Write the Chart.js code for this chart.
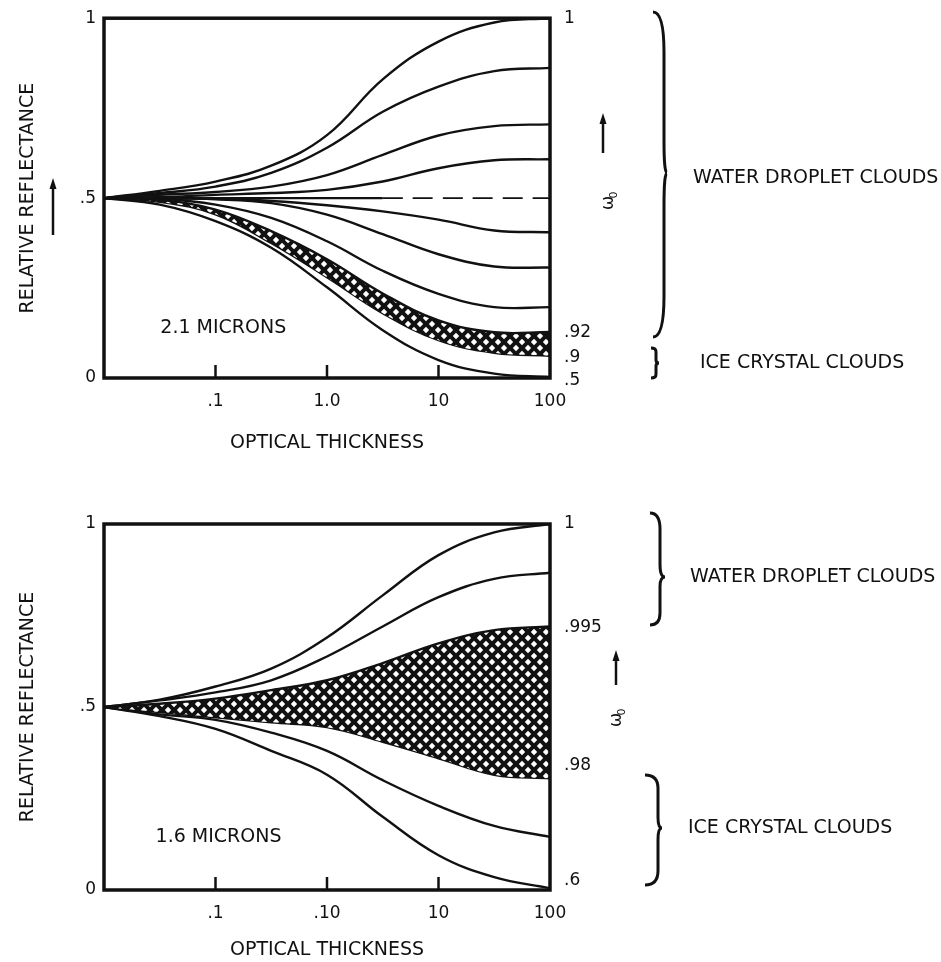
<!DOCTYPE html>
<html>
<head>
<meta charset="utf-8">
<script src="https://cdn.jsdelivr.net/npm/chart.js@4.4.0/dist/chart.umd.min.js"></script>
<style>
  body { margin: 0; background: #fff; }
  #wrap { position: relative; width: 941px; height: 962px; }
  canvas { position: absolute; left: 0; }
</style>
</head>
<body>
<div id="wrap">
  <canvas id="top" width="941" height="470" style="top:0"></canvas>
  <canvas id="bottom" width="941" height="492" style="top:470px"></canvas>
</div>
<script>
var INK = '#111';
var FONT = '"DejaVu Sans"';

var tau = [0.01, 0.0316, 0.1, 0.316, 1, 3.16, 10, 31.6, 100];

var yTickValues = [0, 0.5, 1];
var yTickLabels = ['0', '.5', '1'];
var xTickValues = [0.1, 1, 10, 100];
var xLabels21 = ['.1', '1.0', '10', '100'];
var xLabels16 = ['.1', '.10', '10', '100'];

// 2.1 microns, top curve to bottom curve
var r21_w100 = [0.50, 0.520, 0.546, 0.590, 0.675, 0.830, 0.935, 0.988, 1.000];
var r21_b    = [0.50, 0.514, 0.532, 0.570, 0.640, 0.740, 0.810, 0.853, 0.862];
var r21_c    = [0.50, 0.509, 0.517, 0.532, 0.564, 0.620, 0.674, 0.700, 0.705];
var r21_d    = [0.50, 0.503, 0.509, 0.514, 0.523, 0.546, 0.583, 0.605, 0.608];
var r21_e    = [0.50, 0.500, 0.500, 0.500, 0.500, 0.500, 0.500, 0.500, 0.500];
var r21_f    = [0.50, 0.500, 0.498, 0.492, 0.480, 0.463, 0.440, 0.410, 0.405];
var r21_g    = [0.50, 0.500, 0.497, 0.486, 0.454, 0.400, 0.344, 0.310, 0.307];
var r21_h    = [0.50, 0.498, 0.482, 0.445, 0.380, 0.298, 0.234, 0.197, 0.197];
var r21_w092 = [0.50, 0.495, 0.468, 0.408, 0.330, 0.235, 0.160, 0.127, 0.128];
var r21_w090 = [0.50, 0.490, 0.455, 0.375, 0.280, 0.180, 0.105, 0.070, 0.062];
var r21_w050 = [0.50, 0.482, 0.436, 0.362, 0.252, 0.133, 0.050, 0.012, 0.003];
var right21 = ['1', '.92', '.9', '.5'];
var right21At = [1.0, 0.127, 0.058, -0.006];

// 1.6 microns
var r16_w100  = [0.50, 0.520, 0.556, 0.605, 0.690, 0.805, 0.915, 0.977, 1.000];
var r16_b     = [0.50, 0.518, 0.540, 0.573, 0.638, 0.720, 0.800, 0.850, 0.867];
var r16_w0995 = [0.50, 0.509, 0.523, 0.546, 0.573, 0.620, 0.674, 0.710, 0.720];
var r16_w098  = [0.50, 0.486, 0.472, 0.458, 0.445, 0.405, 0.360, 0.315, 0.305];
var r16_e     = [0.50, 0.480, 0.465, 0.430, 0.380, 0.300, 0.230, 0.175, 0.145];
var r16_w060  = [0.50, 0.475, 0.440, 0.380, 0.315, 0.200, 0.095, 0.035, 0.005];
var right16 = ['1', '.995', '.98', '.6'];
var right16At = [1.0, 0.718, 0.34, 0.027];

function hatch() {
  var c = document.createElement('canvas');
  c.width = 12; c.height = 12;
  var g = c.getContext('2d');
  g.fillStyle = INK;
  g.fillRect(0, 0, 12, 12);
  g.fillStyle = '#fff';
  [[6, 6], [0, 0], [12, 0], [0, 12], [12, 12]].forEach(function (p) {
    g.beginPath();
    g.moveTo(p[0], p[1] - 3.2);
    g.lineTo(p[0] + 3.2, p[1]);
    g.lineTo(p[0], p[1] + 3.2);
    g.lineTo(p[0] - 3.2, p[1]);
    g.closePath();
    g.fill();
  });
  return g.createPattern(c, 'repeat');
}
var pattern = hatch();

function pts(arr) {
  return arr.map(function (y, i) { return { x: tau[i], y: y }; });
}

function line(arr, extra) {
  return Object.assign({
    data: pts(arr),
    borderColor: INK,
    borderWidth: 2.4,
    pointRadius: 0,
    fill: false,
    tension: 0.4
  }, extra || {});
}

function brace(ctx, b) {
  var h1 = b.ym - b.y1, h2 = b.y2 - b.ym, x = b.x, w = b.w;
  ctx.beginPath();
  ctx.moveTo(x, b.y1);
  ctx.quadraticCurveTo(x + w, b.y1, x + w, b.y1 + h1 * 0.25);
  ctx.lineTo(x + w, b.ym - h1 * 0.2);
  ctx.quadraticCurveTo(x + w, b.ym, x + w + b.t, b.ym);
  ctx.quadraticCurveTo(x + w, b.ym, x + w, b.ym + h2 * 0.2);
  ctx.lineTo(x + w, b.y2 - h2 * 0.25);
  ctx.quadraticCurveTo(x + w, b.y2, x, b.y2);
  ctx.stroke();
}

function arrow(ctx, x, y1, y2) {
  ctx.beginPath();
  ctx.moveTo(x, y2);
  ctx.lineTo(x, y1 + 8);
  ctx.stroke();
  ctx.beginPath();
  ctx.moveTo(x, y1);
  ctx.lineTo(x - 3.5, y1 + 11);
  ctx.lineTo(x + 3.5, y1 + 11);
  ctx.closePath();
  ctx.fill();
}

var decor = {
  id: 'decor',
  afterDraw: function (chart, args, o) {
    var ctx = chart.ctx, a = chart.chartArea;
    var xs = chart.scales.x, ys = chart.scales.y;
    ctx.save();
    ctx.strokeStyle = INK;
    ctx.fillStyle = INK;
    ctx.lineWidth = 3.5;
    ctx.strokeRect(a.left, a.top, a.right - a.left, a.bottom - a.top);

    // tick marks point inward from the bottom frame
    ctx.lineWidth = 2.5;
    xTickValues.slice(0, 3).forEach(function (v) {
      var px = xs.getPixelForValue(v);
      ctx.beginPath();
      ctx.moveTo(px, a.bottom);
      ctx.lineTo(px, a.bottom - 13);
      ctx.stroke();
    });

    ctx.textAlign = 'left';
    ctx.textBaseline = 'middle';
    ctx.font = '17px ' + FONT;
    o.right.forEach(function (t, i) {
      ctx.fillText(t, a.right + 14, ys.getPixelForValue(o.rightAt[i]));
    });

    ctx.font = '19px ' + FONT;
    ctx.fillText(o.micron, xs.getPixelForValue(o.micronAt[0]), ys.getPixelForValue(o.micronAt[1]));

    o.arrows.forEach(function (r) { arrow(ctx, r[0], r[1], r[2]); });

    // omega-naught, rotated like the axis title
    ctx.save();
    ctx.translate(o.omega[0], o.omega[1]);
    ctx.rotate(-Math.PI / 2);
    ctx.textAlign = 'center';
    ctx.font = '17px ' + FONT;
    ctx.fillText('\u03c9', 0, 0);
    ctx.font = '11px ' + FONT;
    ctx.fillText('0', 8, 5);
    ctx.restore();

    ctx.lineWidth = 3;
    o.braces.forEach(function (b) { brace(ctx, b); });

    ctx.font = '19px ' + FONT;
    o.notes.forEach(function (n) { ctx.fillText(n[0], n[1], n[2]); });
    ctx.restore();
  }
};

function makeChart(id, datasets, xLabels, lay, deco) {
  return new Chart(document.getElementById(id), {
    type: 'line',
    data: { datasets: datasets },
    plugins: [decor],
    options: {
      responsive: false,
      animation: false,
      devicePixelRatio: 1,
      events: [],
      layout: { padding: { left: 0, right: 391, top: lay.top, bottom: 0 } },
      plugins: {
        legend: { display: false },
        tooltip: { enabled: false },
        decor: deco
      },
      scales: {
        x: {
          type: 'logarithmic',
          min: 0.01,
          max: 100,
          afterBuildTicks: function (s) { s.ticks = xTickValues.map(function (v) { return { value: v }; }); },
          afterFit: function (s) { s.height = lay.xh; },
          grid: { display: false, drawTicks: false },
          border: { display: false },
          ticks: {
            autoSkip: false,
            maxRotation: 0,
            padding: 13,
            color: INK,
            font: { family: FONT, size: 17 },
            callback: function (v, i) { return xLabels[i]; }
          },
          title: {
            display: true,
            text: 'OPTICAL THICKNESS',
            color: INK,
            font: { family: FONT, size: 19 },
            padding: { top: 0, bottom: lay.tb }
          }
        },
        y: {
          min: 0,
          max: 1,
          afterBuildTicks: function (s) { s.ticks = yTickValues.map(function (v) { return { value: v }; }); },
          afterFit: function (s) { s.width = 104; },
          grid: { display: false, drawTicks: false },
          border: { display: false },
          ticks: {
            padding: 8,
            color: INK,
            font: { family: FONT, size: 17 },
            callback: function (v, i) { return yTickLabels[i]; }
          },
          title: {
            display: true,
            text: 'RELATIVE REFLECTANCE',
            color: INK,
            font: { family: FONT, size: 19 },
            padding: { top: 17, bottom: 0 }
          }
        }
      }
    }
  });
}

makeChart('top', [
  line(r21_w100),
  line(r21_b),
  line(r21_c),
  line(r21_d),
  line(r21_e, {
    segment: {
      borderDash: function (c) { return c.p0.parsed.x >= 3 ? [20, 10] : undefined; },
      borderWidth: function (c) { return c.p0.parsed.x >= 3 ? 1.8 : undefined; }
    }
  }),
  line(r21_f),
  line(r21_g),
  line(r21_h),
  line(r21_w092, { fill: '+1', backgroundColor: pattern }),
  line(r21_w090),
  line(r21_w050)
], xLabels21, { top: 16, xh: 92, tb: 16 }, {
  right: right21,
  rightAt: right21At,
  micron: '2.1 MICRONS',
  micronAt: [0.032, 0.138],
  arrows: [[53, 178, 235], [603, 113, 153]],
  omega: [609, 203],
  braces: [
    { x: 653, y1: 12, y2: 337, ym: 173, w: 11, t: 3 },
    { x: 651, y1: 348, y2: 378, ym: 363, w: 5, t: 3 }
  ],
  notes: [['WATER DROPLET CLOUDS', 693, 178], ['ICE CRYSTAL CLOUDS', 700, 363]]
});

makeChart('bottom', [
  line(r16_w100),
  line(r16_b),
  line(r16_w0995, { fill: '+1', backgroundColor: pattern }),
  line(r16_w098),
  line(r16_e),
  line(r16_w060)
], xLabels16, { top: 54, xh: 72, tb: 1 }, {
  right: right16,
  rightAt: right16At,
  micron: '1.6 MICRONS',
  micronAt: [0.029, 0.145],
  arrows: [[616, 180, 215]],
  omega: [617, 250],
  braces: [
    { x: 650, y1: 43, y2: 155, ym: 107, w: 10, t: 5 },
    { x: 645, y1: 305, y2: 415, ym: 358, w: 13, t: 4 }
  ],
  notes: [['WATER DROPLET CLOUDS', 690, 107], ['ICE CRYSTAL CLOUDS', 688, 358]]
});
</script>
</body>
</html>
